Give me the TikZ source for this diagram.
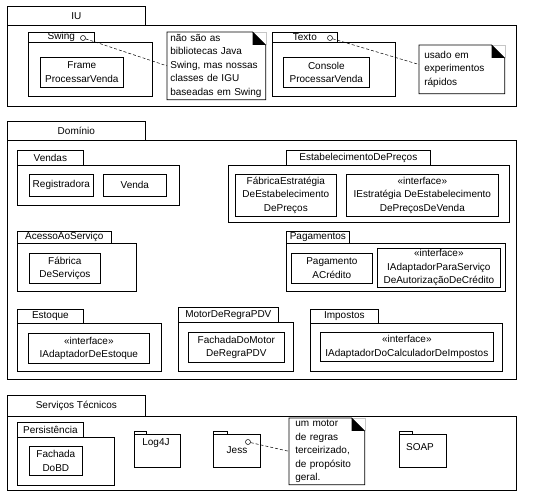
\documentclass[tikz,border=0pt]{standalone}
\usepackage{fontspec}
\setmainfont{Liberation Sans}
\usetikzlibrary{calc}

\begin{document}
\begin{tikzpicture}[x=1pt, y=-1pt, line width=0.7pt,
		font=\fontsize{10}{13.5}\selectfont,
		wh/.style 2 args={minimum width=#1pt, minimum height=#2pt},
		pkgbody/.style={draw, anchor=north west, inner sep=0pt},
		pkgtab/.style={draw, anchor=north west, inner sep=0pt},
		classbox/.style={draw, anchor=north west, inner sep=0pt, align=center},
		notebox/.style={anchor=north west, inner ysep=0pt, align=left},
		lollipop/.style={circle, draw, fill=white, line width=0.5pt, minimum size=5pt, inner sep=0pt},
		tieline/.style={densely dashed, line width=0.5pt}]
			\useasboundingbox (0,0) rectangle (542,497);
			% IU
			\node[pkgbody, wh={509}{81}] (iu) at (7,25) {};
			\node[pkgtab, wh={138}{19}] (iutab) at (7,6) {IU};
			\node[pkgbody, wh={124}{54}] (swing) at (28,42) {};
			\node[pkgtab, wh={66}{10}] (swingtab) at (28,32) {Swing};
			\node[classbox, wh={83}{30}] (frame) at (40,57) {Frame\\ProcessarVenda};
			\node[pkgbody, wh={123}{54}] (texto) at (272,42) {};
			\node[pkgtab, wh={65}{10}] (textotab) at (272,32) {Texto};
			\node[classbox, wh={86}{30}] (console) at (283,57) {Console\\ProcessarVenda};
			\node[notebox, inner xsep=3pt, text width=92pt, minimum height=67pt] (note1) at (167,32)
				{não são as\\bibliotecas Java\\Swing, mas nossas\\classes de IGU\\baseadas em Swing};
			\node[notebox, inner xsep=5pt, text width=75pt, minimum height=48pt] (note2) at (419,45)
				{usado em\\experimentos\\rápidos};
			% Dominio
			\node[pkgbody, wh={509}{239}] (dominio) at (7,140) {};
			\node[pkgtab, wh={138}{19}] (dominiotab) at (7,121) {Domínio};
			\node[pkgbody, wh={162}{40}] (vendas) at (17,165) {};
			\node[pkgtab, wh={66}{15}] (vendastab) at (17,150) {Vendas};
			\node[classbox, wh={64}{22}] (registradora) at (29,174) {Registradora};
			\node[classbox, wh={63}{22}] (venda) at (103,174) {Venda};
			\node[pkgbody, wh={281}{57}] (precos) at (228,165) {};
			\node[pkgtab, wh={144}{15}] (precostab) at (286,150) {EstabelecimentoDePreços};
			\node[classbox, wh={101}{42}] (fabricaestrategia) at (235,174) {FábricaEstratégia\\DeEstabelecimento\\DePreços};
			\node[classbox, wh={152}{42}] (iestrategia) at (346,174) {«interface»\\IEstratégia DeEstabelecimento\\DePreçosDeVenda};
			\node[pkgbody, wh={119}{48}] (acesso) at (17,243) {};
			\node[pkgtab, wh={94}{12}] (acessotab) at (17,231) {AcessoAoServiço};
			\node[classbox, wh={71}{30}] (fabricaservicos) at (29,253) {Fábrica\\DeServiços};
			\node[pkgbody, wh={219}{48}] (pagamentos) at (286,243) {};
			\node[pkgtab, wh={63}{12}] (pagamentostab) at (286,231) {Pagamentos};
			\node[classbox, wh={81}{30}] (pagamento) at (291,253) {Pagamento\\ACrédito};
			\node[classbox, wh={123}{39}] (iadaptadorcredito) at (377,248) {«interface»\\IAdaptadorParaServiço\\DeAutorizaçãoDeCrédito};
			\node[pkgbody, wh={144}{48}] (estoque) at (17,323) {};
			\node[pkgtab, wh={66}{14}] (estoquetab) at (17,309) {Estoque};
			\node[classbox, wh={121}{30}] (iadaptadorestoque) at (28,333) {«interface»\\IAdaptadorDeEstoque};
			\node[pkgbody, wh={115}{49}] (motor) at (178,322) {};
			\node[pkgtab, wh={100}{15}] (motortab) at (178,307) {MotorDeRegraPDV};
			\node[classbox, wh={96}{30}] (fachadamotor) at (188,332) {FachadaDoMotor\\DeRegraPDV};
			\node[pkgbody, wh={192}{48}] (impostos) at (310,323) {};
			\node[pkgtab, wh={68}{14}] (impostostab) at (310,309) {Impostos};
			\node[classbox, wh={173}{29}] (icalculador) at (320,332) {«interface»\\IAdaptadorDoCalculadorDeImpostos};
			% Servicos Tecnicos
			\node[pkgbody, wh={509}{74}] (servicos) at (7,416) {};
			\node[pkgtab, wh={138}{21}] (servicostab) at (7,395) {Serviços Técnicos};
			\node[pkgbody, wh={97}{48}] (persistencia) at (17,437) {};
			\node[pkgtab, wh={66}{15}] (persistenciatab) at (17,422) {Persistência};
			\node[classbox, wh={53}{29}] (fachadabd) at (29,446) {Fachada\\DoBD};
			\node[pkgbody, wh={46}{33}] (log4j) at (134,434) {};
			\node[pkgtab, wh={12}{3}] (log4jtab) at (134,431) {};
			\node (log4jname) at (156,443) {Log4J};
			\node[pkgbody, wh={47}{33}] (jess) at (213,434) {};
			\node[pkgtab, wh={14}{3}] (jesstab) at (213,431) {};
			\node (jessname) at (237,450) {Jess};
			\node[pkgbody, wh={47}{33}] (soap) at (399,434) {};
			\node[pkgtab, wh={13}{3}] (soaptab) at (399,431) {};
			\node (soapname) at (420,447) {SOAP};
			\node[notebox, inner xsep=6pt, text width=63pt, minimum height=66pt] (note3) at (289,418)
				{um motor\\de regras\\terceirizado,\\de propósito\\geral.};
			% notes with folded corner
			\foreach \n in {note1, note2, note3} {
				\draw[gray!45, line width=0.4pt] ($(\n.north east)+(-13,0)$) -- (\n.north east) -- ($(\n.north east)+(0,13)$);
				\draw (\n.north west) -- ($(\n.north east)+(-13,0)$) -- ($(\n.north east)+(0,13)$) -- (\n.south east) -- (\n.south west) -- cycle;
				\fill ($(\n.north east)+(-13,0)$) -- ($(\n.north east)+(0,13)$) -- ($(\n.north east)+(-13,13)$) -- cycle;
			}
			% attachments
			\node[lollipop] (swingc) at (83,38) {};
			\node[lollipop] (textoc) at (330,38) {};
			\node[lollipop] (jessc) at (248,442) {};
			\draw[tieline] (swingc) -- (note1.west);
			\draw[tieline] (textoc) -- ($(note2.north west)!0.4!(note2.south west)$);
			\draw[tieline] (jessc) -- (note3.west);
		\end{tikzpicture}
\end{document}
